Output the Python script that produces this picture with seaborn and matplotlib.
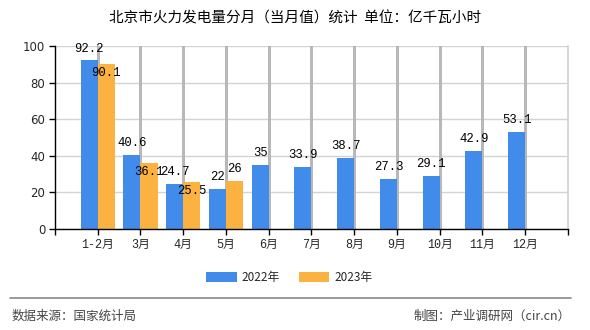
import numpy as np
import pandas as pd
import matplotlib
matplotlib.use("Agg")
import matplotlib.pyplot as plt
import seaborn as sns
from matplotlib.patches import Patch

months = ["1-2月", "3月", "4月", "5月", "6月", "7月", "8月", "9月", "10月", "11月", "12月"]
v2022 = [92.2, 40.6, 24.7, 22, 35, 33.9, 38.7, 27.3, 29.1, 42.9, 53.1]
v2023 = [90.1, 36.1, 25.5, 26, None, None, None, None, None, None, None]
series = ["2022年", "2023年"]
label_pos_2023 = ["in", "in", "in", "out"]
colors = ["#418beb", "#fbb241"]
yticks = [0, 20, 40, 60, 80, 100]

sns.set_theme(style="white")
plt.rcParams["font.family"] = ["Noto Sans CJK SC", "DejaVu Sans"]

rows = []
for m, a, b in zip(months, v2022, v2023):
    rows.append({"month": m, "series": series[0], "value": a})
    rows.append({"month": m, "series": series[1], "value": np.nan if b is None else b})
df = pd.DataFrame(rows)

fig = plt.figure(figsize=(5.9, 3.3), dpi=100)
ax = fig.add_axes([0.0932, 0.306, 0.8695, 0.5545])

sns.barplot(data=df, x="month", y="value", hue="series", order=months,
            hue_order=series, palette=colors, width=0.8, saturation=1,
            ax=ax, legend=False, errorbar=None, linewidth=0, edgecolor="none")

ax.set_xlim(-1, len(months))
ax.set_ylim(0, 100)
ax.set_axisbelow(True)
ax.yaxis.grid(True, color="#d3d3d3", linewidth=1)
ax.vlines(range(len(months)), 0, 1, transform=ax.get_xaxis_transform(),
          colors="#b8b8b8", linewidth=1.0, zorder=0.9, antialiased=False)
ax.set_yticks(yticks)
ax.set_xticks(range(-1, len(months) + 1))
ax.set_xticklabels([""] + months + [""])
ax.set_xlabel("")
ax.set_ylabel("")
ax.spines["top"].set_visible(False)
ax.spines["right"].set_color("#d3d3d3")
ax.spines["left"].set_color("black")
ax.spines["bottom"].set_color("black")
ax.spines["left"].set_linewidth(1)
ax.spines["bottom"].set_linewidth(1)
ax.tick_params(axis="both", which="major", length=4, width=1, color="black",
               direction="out", bottom=True, left=True, pad=3)
for t in ax.get_yticklabels():
    t.set_fontfamily(["DejaVu Sans"])
    t.set_fontsize(8.5)
for t in ax.get_xticklabels():
    t.set_fontfamily(["Liberation Mono", "Noto Sans CJK SC"])
    t.set_fontsize(8.5)

lab_font = dict(fontsize=8.8, family=["Liberation Mono"], color="black",
                ha="center", va="center")
containers = ax.containers
for bar, v in zip(containers[0], v2022):
    ax.annotate(f"{v:g}", (bar.get_x() + bar.get_width() / 2, bar.get_height()),
                xytext=(0, 8.5), textcoords="offset points", **lab_font)
vals23 = [v for v in v2023 if v is not None]
bars23 = [b for b in containers[1] if not np.isnan(b.get_height()) and b.get_height() > 0]
for bar, v, pos in zip(bars23, vals23, label_pos_2023):
    off = 9 if pos == "out" else -6.5
    ax.annotate(f"{v:g}", (bar.get_x() + bar.get_width() / 2, bar.get_height()),
                xytext=(0, off), textcoords="offset points", **lab_font)

fig.text(0.5, 0.945, "北京市火力发电量分月（当月值）统计  单位：亿千瓦小时",
         ha="center", va="center", fontsize=10.5, color="black")

handles = [Patch(facecolor=c, edgecolor="none") for c in colors]
fig.legend(handles, series, loc="center", bbox_to_anchor=(0.49, 0.16), ncol=2,
           frameon=False, fontsize=8.5, handlelength=2.6, handleheight=0.9,
           columnspacing=1.6, handletextpad=0.4)

fig.add_artist(plt.Line2D([0.017, 0.967], [0.097, 0.097], transform=fig.transFigure,
                          color="#888888", linewidth=1.2))
fig.text(0.02, 0.042, "数据来源：国家统计局", ha="left", va="center",
         fontsize=9, color="#444444")
fig.text(0.967, 0.042, "制图：产业调研网（cir.cn）", ha="right", va="center",
         fontsize=9, color="#444444")

fig.savefig("out.png", dpi=100)
